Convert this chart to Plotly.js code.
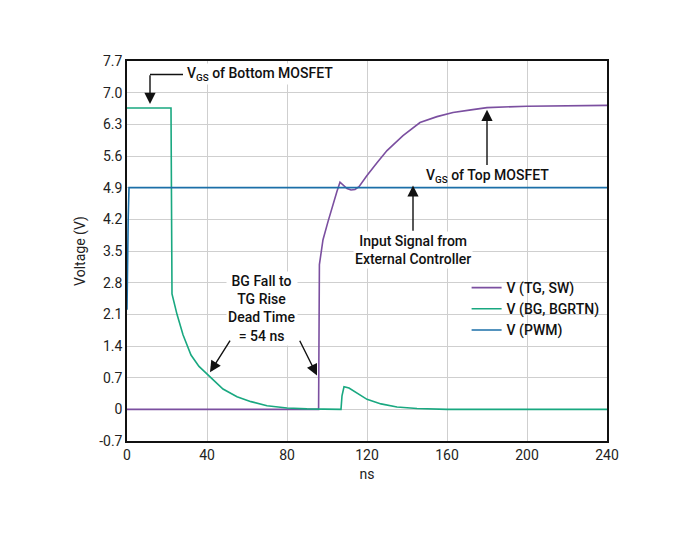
<!DOCTYPE html>
<html>
<head>
<script src="https://cdn.plot.ly/plotly-3.0.1.min.js"></script>
<style>body{margin:0;background:#fff}</style>
</head>
<body>
<div id="plot" style="width:691px;height:537px"></div>
<script>
// values
const pwmX = [0, 0.3, 0.6, 1, 240];
const pwmY = [2.2, 3.5, 4.2, 4.9, 4.9];

const bgX = [0, 22, 22.5, 25, 28, 32, 36, 41.5, 48, 55, 62, 70, 80, 90, 100, 107, 107.5, 108.5, 111, 115, 120, 127, 135, 145, 160, 240];
const bgY = [6.66, 6.66, 2.55, 2.1, 1.65, 1.2, 0.95, 0.72, 0.45, 0.28, 0.17, 0.08, 0.03, 0.01, 0, 0, 0.3, 0.5, 0.47, 0.36, 0.22, 0.12, 0.05, 0.02, 0, 0];

const tgX = [0, 95.8, 96.2, 97, 98, 100.5, 103, 105, 106.5, 108, 110, 112, 114, 116, 118, 120, 125, 130, 138, 146.5, 155, 163, 172, 180, 200, 220, 240];
const tgY = [0, 0, 3.2, 3.5, 3.75, 4.15, 4.55, 4.82, 5.02, 4.95, 4.88, 4.85, 4.86, 4.92, 5.05, 5.17, 5.45, 5.72, 6.05, 6.34, 6.47, 6.56, 6.62, 6.67, 6.70, 6.71, 6.72];

const yTicks = [-0.7, 0, 0.7, 1.4, 2.1, 2.8, 3.5, 4.2, 4.9, 5.6, 6.3, 7.0, 7.7];
const yLabels = ['-0.7', '0', '0.7', '1.4', '2.1', '2.8', '3.5', '4.2', '4.9', '5.6', '6.3', '7.0', '7.7'];

const fnt = {family: 'Roboto, "Liberation Sans", sans-serif', size: 14, color: '#222'};
const ann = {family: 'Roboto, "Liberation Sans", sans-serif', size: 14, color: '#111', weight: 500};

const data = [
  {x: tgX, y: tgY, name: 'V (TG, SW)', mode: 'lines', line: {color: '#7b4fa0', width: 1.6}},
  {x: bgX, y: bgY, name: 'V (BG, BGRTN)', mode: 'lines', line: {color: '#19a880', width: 1.6}},
  {x: pwmX, y: pwmY, name: 'V (PWM)', mode: 'lines', line: {color: '#1b6fa8', width: 1.6}}
];

function arrow(text, x, y, ax, ay, extra) {
  return Object.assign({text: text, x: x, y: y, ax: ax, ay: ay, axref: 'x', ayref: 'y',
    showarrow: true, arrowhead: 2, arrowsize: 1.6, arrowwidth: 1.4, arrowcolor: '#111', font: ann}, extra || {});
}

const layout = {
  width: 691, height: 537,
  margin: {l: 127, r: 84, t: 61, b: 96},
  paper_bgcolor: '#fff', plot_bgcolor: '#fff',
  font: fnt,
  showlegend: true,
  legend: {x: 0.995, y: 0.25, xanchor: 'right', yanchor: 'bottom', bgcolor: 'rgba(255,255,255,0)', font: ann, tracegroupgap: 0},
  xaxis: {range: [0, 240], tickvals: [0, 40, 80, 120, 160, 200, 240], showgrid: true, gridcolor: '#cfcfcf',
    zeroline: false, showline: true, mirror: true, linecolor: '#111', linewidth: 1.5, ticks: '',
    title: {text: 'ns', font: fnt, standoff: 8}},
  yaxis: {range: [-0.7, 7.7], tickvals: yTicks, ticktext: yLabels, showgrid: true, gridcolor: '#cfcfcf',
    zeroline: false, showline: true, mirror: true, linecolor: '#111', linewidth: 1.5, ticks: '',
    title: {text: 'Voltage (V)', font: fnt, standoff: 10}},
  shapes: [
    {type: 'line', xref: 'x', yref: 'y', x0: 11.5, x1: 28, y0: 7.4, y1: 7.4, line: {color: '#111', width: 1.4}}
  ],
  annotations: [
    {text: 'V<sub>GS</sub> of Bottom MOSFET', x: 29, y: 7.42, xanchor: 'left', showarrow: false, font: ann, bgcolor: '#fff'},
    arrow('', 11.5, 6.75, 11.5, 7.42),
    arrow('V<sub>GS</sub> of Top MOSFET', 180, 6.62, 180, 5.4, {yanchor: 'top'}),
    arrow('Input Signal from<br>External Controller', 143, 4.95, 143, 3.95, {yanchor: 'top', bgcolor: '#fff'}),
    {text: 'BG Fall to<br>TG Rise<br>Dead Time<br>= 54 ns', x: 67.5, y: 3.05, yanchor: 'top', showarrow: false, font: ann, bgcolor: '#fff'},
    arrow('', 41.5, 0.82, 52, 1.55),
    arrow('', 95, 0.75, 86, 1.55)
  ]
};

Plotly.newPlot('plot', data, layout, {displayModeBar: false});
</script>
</body>
</html>
